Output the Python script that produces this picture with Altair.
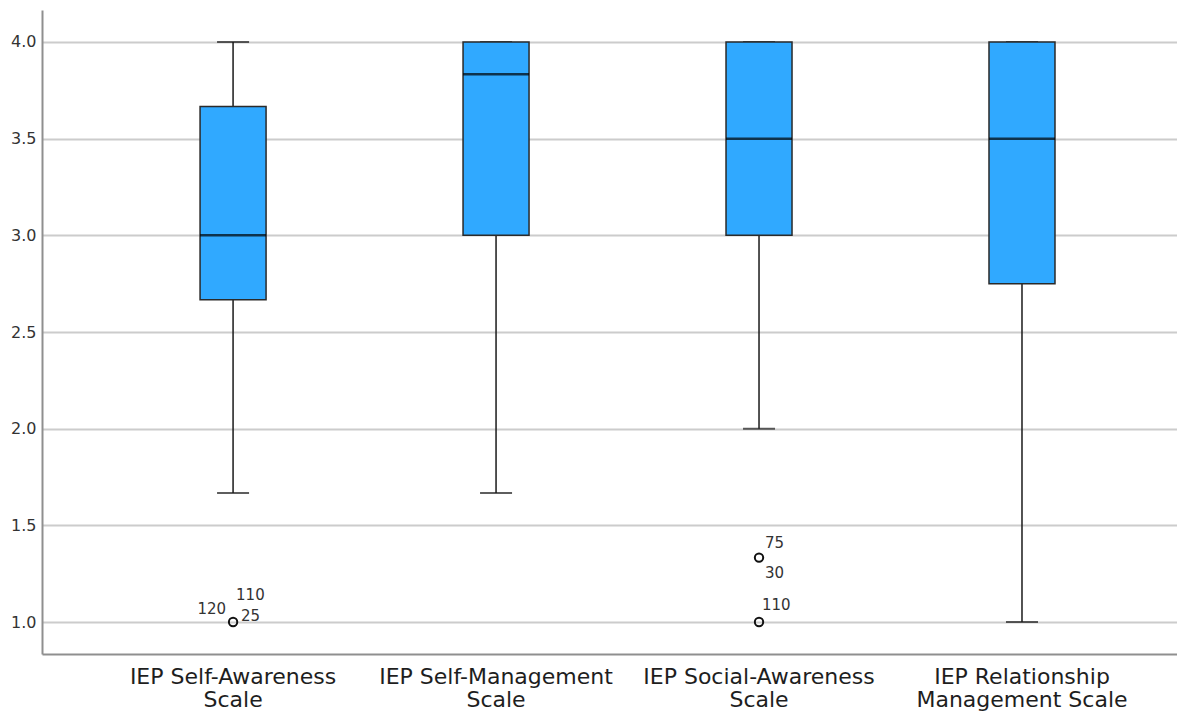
import altair as alt
import pandas as pd

# Five-number summaries for each IEP scale
scales = [
    "IEP Self-Awareness Scale",
    "IEP Self-Management Scale",
    "IEP Social-Awareness Scale",
    "IEP Relationship Management Scale",
]
label_lines = [
    ["IEP Self-Awareness", "Scale"],
    ["IEP Self-Management", "Scale"],
    ["IEP Social-Awareness", "Scale"],
    ["IEP Relationship", "Management Scale"],
]
whisker_low = [1.667, 1.667, 2.0, 1.0]
q1 = [2.667, 3.0, 3.0, 2.75]
median = [3.0, 3.833, 3.5, 3.5]
q3 = [3.667, 4.0, 4.0, 4.0]
whisker_high = [4.0, 4.0, 4.0, 4.0]

# Outlying cases
outlier_scale = [scales[0], scales[2], scales[2]]
outlier_value = [1.0, 1.333, 1.0]

# Case numbers printed beside the outliers
case_scale = [scales[0], scales[0], scales[0], scales[2], scales[2], scales[2]]
case_value = [1.0, 1.0, 1.0, 1.333, 1.333, 1.0]
case_id = ["120", "110", "25", "75", "30", "110"]

# Label placement relative to the circle: (align, dx, dy)
case_offsets = [
    ("right", -7, -13),
    ("left", 3, -27),
    ("left", 8, -6),
    ("left", 6, -15),
    ("left", 6, 15),
    ("left", 3, -17),
]

summary = pd.DataFrame({
    "scale": scales,
    "low": whisker_low,
    "q1": q1,
    "median": median,
    "q3": q3,
    "high": whisker_high,
})
outliers = pd.DataFrame({"scale": outlier_scale, "value": outlier_value})
cases = pd.DataFrame({"scale": case_scale, "value": case_value, "case": case_id})

FILL = "#30A9FF"
Y_DOMAIN = [0.8345, 4.1655]

label_expr = " : ".join(
    f"datum.value == '{s}' ? ['{a}', '{b}']" for s, (a, b) in zip(scales, label_lines)
) + " : datum.label"

x_enc = alt.X(
    "scale:N",
    scale=alt.Scale(domain=scales, paddingInner=0, paddingOuter=0.158, align=0.717),
    sort=scales,
    axis=alt.Axis(
        title=None,
        labelAngle=0,
        labelExpr=label_expr,
        labelFontSize=22,
        labelLineHeight=23,
        labelColor="#1e1e1e",
        labelPadding=12,
        ticks=False,
        grid=False,
        domainColor="#8f8f8f",
        domainWidth=2,
        labelLimit=400,
    ),
)
y_scale = alt.Scale(domain=Y_DOMAIN, nice=False, zero=False)
y_axis = alt.Axis(
    title=None,
    values=[1.0, 1.5, 2.0, 2.5, 3.0, 3.5, 4.0],
    format=".1f",
    labelFontSize=16,
    labelColor="#333333",
    labelPadding=6,
    ticks=False,
    grid=True,
    gridColor="#cccccc",
    gridWidth=2,
    domainColor="#8f8f8f",
    domainWidth=2,
)

base = alt.Chart(summary)

whisker = base.mark_rule(color="#1a1a1a", strokeWidth=1.5).encode(
    x=x_enc,
    y=alt.Y("low:Q", scale=y_scale, axis=y_axis),
    y2="high:Q",
)
cap_low = base.mark_tick(color="#1a1a1a", size=32, thickness=2).encode(
    x=alt.X("scale:N", sort=scales), y=alt.Y("low:Q")
)
cap_high = base.mark_tick(color="#1a1a1a", size=32, thickness=2).encode(
    x=alt.X("scale:N", sort=scales), y=alt.Y("high:Q")
)
box = base.mark_bar(size=66, fill=FILL, stroke="#2a2a2a", strokeWidth=1.5).encode(
    x=alt.X("scale:N", sort=scales), y=alt.Y("q1:Q"), y2="q3:Q"
)
mid = base.mark_tick(color="#000000", size=66, thickness=2.5).encode(
    x=alt.X("scale:N", sort=scales), y=alt.Y("median:Q")
)
points = alt.Chart(outliers).mark_point(
    shape="circle", size=70, filled=False, stroke="#111111", strokeWidth=2, opacity=1
).encode(x=alt.X("scale:N", sort=scales), y=alt.Y("value:Q"))

layers = [whisker, cap_low, cap_high, box, mid, points]
for i, (align, dx, dy) in enumerate(case_offsets):
    layers.append(
        alt.Chart(cases.iloc[[i]]).mark_text(
            align=align, baseline="middle", dx=dx, dy=dy, fontSize=15, color="#333333"
        ).encode(x=alt.X("scale:N", sort=scales), y=alt.Y("value:Q"), text="case:N")
    )

chart = (
    alt.layer(*layers)
    .properties(
        width=1135,
        height=644,
        padding={"left": 42, "top": 10, "right": 0, "bottom": 59},
        autosize=alt.AutoSizeParams(type="none"),
    )
    .configure(font="DejaVu Sans")
    .configure_view(stroke=None)
)

chart.save("out.html", embed_options={"renderer": "svg", "actions": False})
